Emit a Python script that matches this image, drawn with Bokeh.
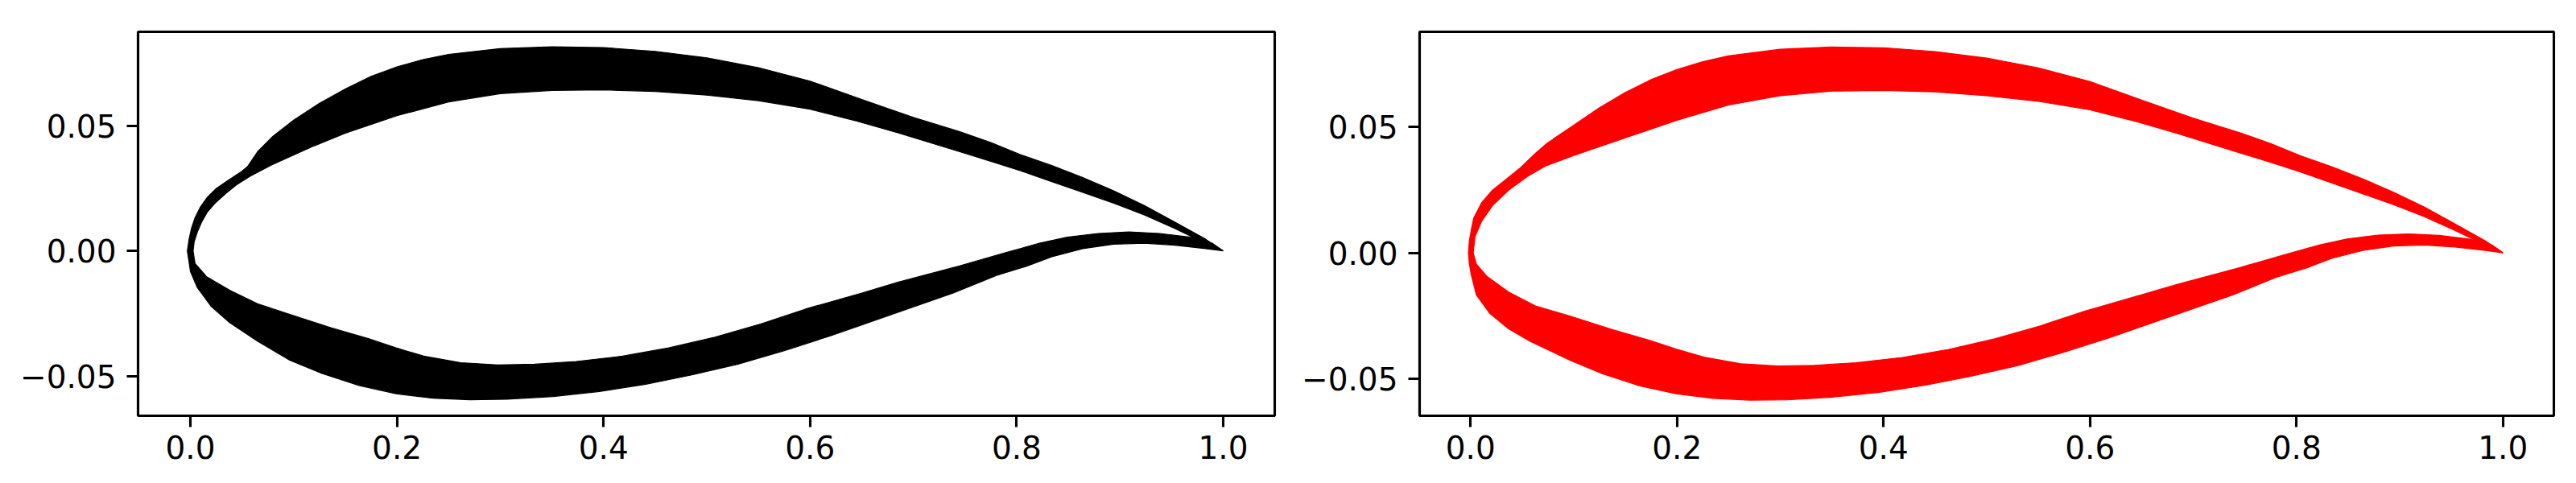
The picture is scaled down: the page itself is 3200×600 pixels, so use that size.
from bokeh.plotting import figure
from bokeh.layouts import row
from bokeh.models import FixedTicker, CustomJSTickFormatter, Range1d
from bokeh.embed import file_html
from bokeh.resources import INLINE

# ---------------- Left panel (black) ----------------
L_upper_outer_x = [-0.003, -0.0013, 0.001, 0.0044, 0.0096, 0.0161, 0.0252, 0.0369, 0.0499, 0.0555, 0.065,
                   0.08, 0.1, 0.125, 0.15, 0.175, 0.2, 0.225, 0.25, 0.3, 0.35, 0.4, 0.45, 0.5, 0.55, 0.6,
                   0.65, 0.7, 0.745, 0.775, 0.804, 0.834, 0.864, 0.894, 0.924, 0.953, 0.983, 1.0]
L_upper_outer_y = [0.0, 0.0047, 0.0090, 0.0132, 0.0175, 0.0213, 0.0250, 0.0283, 0.0318, 0.0338, 0.0396,
                   0.0458, 0.0522, 0.0590, 0.0647, 0.0697, 0.0735, 0.0764, 0.0785, 0.0808, 0.0815, 0.0812,
                   0.0797, 0.0771, 0.0732, 0.0678, 0.0605, 0.0533, 0.0476, 0.0433, 0.0384, 0.0341, 0.0293,
                   0.0240, 0.0181, 0.0116, 0.0047, 0.0]
L_upper_inner_x = [0.0026, 0.0036, 0.0070, 0.0109, 0.0161, 0.0239, 0.0343, 0.0447, 0.0577, 0.0785, 0.0992,
                   0.12, 0.15, 0.2, 0.25, 0.3, 0.35, 0.4, 0.45, 0.5, 0.55, 0.6, 0.646, 0.685, 0.715, 0.745,
                   0.775, 0.804, 0.834, 0.864, 0.894, 0.924, 0.953, 0.98, 1.0]
L_upper_inner_y = [0.0, 0.0036, 0.0079, 0.0116, 0.0154, 0.0191, 0.0230, 0.0264, 0.0298, 0.0343, 0.0382,
                   0.0420, 0.0470, 0.0540, 0.0595, 0.0628, 0.0641, 0.0643, 0.0637, 0.0622, 0.0600, 0.0566,
                   0.0518, 0.0472, 0.0434, 0.0396, 0.0358, 0.0320, 0.0277, 0.0234, 0.0191, 0.0143, 0.0090,
                   0.0036, 0.0]
L_lower_outer_x = [-0.003, -0.0015, 0.0, 0.0067, 0.0201, 0.038, 0.0649, 0.0962, 0.1275, 0.1633, 0.1991,
                   0.2349, 0.2707, 0.3065, 0.3512, 0.396, 0.4408, 0.4855, 0.5302, 0.575, 0.6197, 0.655,
                   0.7387, 0.7804, 0.8102, 0.8341, 0.8639, 0.8938, 0.9236, 0.9534, 0.9832, 1.0]
L_lower_outer_y = [0.0, -0.0040, -0.0082, -0.0146, -0.0221, -0.0286, -0.0360, -0.0436, -0.0489, -0.0537,
                   -0.0570, -0.0588, -0.0594, -0.0592, -0.0581, -0.0561, -0.0532, -0.0495, -0.0452, -0.0398,
                   -0.0339, -0.0288, -0.0168, -0.0098, -0.0060, -0.0023, 0.0009, 0.0027, 0.0031, 0.0023,
                   0.0009, 0.0]
L_lower_inner_x = [0.0026, 0.0045, 0.0157, 0.038, 0.0649, 0.0962, 0.1365, 0.1723, 0.1991, 0.226, 0.2617,
                   0.2976, 0.3334, 0.3736, 0.4184, 0.4631, 0.5079, 0.5526, 0.5955, 0.6501, 0.685, 0.7447,
                   0.7894, 0.8222, 0.849, 0.8789, 0.9087, 0.9385, 0.9683, 0.9892, 1.0]
L_lower_inner_y = [0.0, -0.0050, -0.0103, -0.0157, -0.0211, -0.0253, -0.0307, -0.0350, -0.0387, -0.0420,
                   -0.0446, -0.0455, -0.0452, -0.0441, -0.0420, -0.0387, -0.0344, -0.0291, -0.0232, -0.0168,
                   -0.0125, -0.0060, -0.0007, 0.0031, 0.0055, 0.0070, 0.0076, 0.0070, 0.0055, 0.0031, 0.0]

# ---------------- Right panel (red) ----------------
R_upper_outer_x = [-0.002, -0.0012, 0.0008, 0.0031, 0.0109, 0.0213, 0.0343, 0.0473, 0.0629, 0.0733, 0.08, 0.1,
                   0.125, 0.15, 0.175, 0.2, 0.225, 0.25, 0.3, 0.35, 0.4, 0.45, 0.5, 0.55, 0.6, 0.65, 0.7,
                   0.745, 0.775, 0.804, 0.834, 0.864, 0.894, 0.924, 0.953, 0.983, 1.0]
R_upper_outer_y = [0.0, 0.0045, 0.0092, 0.0138, 0.0199, 0.0248, 0.0290, 0.0333, 0.0394, 0.0431, 0.0450,
                   0.0505, 0.0575, 0.0635, 0.0686, 0.0726, 0.0757, 0.0780, 0.0806, 0.0815, 0.0812, 0.0797,
                   0.0771, 0.0732, 0.0678, 0.0605, 0.0533, 0.0476, 0.0433, 0.0384, 0.0341, 0.0293, 0.0240,
                   0.0181, 0.0116, 0.0047, 0.0]
R_upper_inner_x = [0.0026, 0.0044, 0.0109, 0.0213, 0.0369, 0.0551, 0.0733, 0.1, 0.15, 0.2, 0.25, 0.3, 0.35,
                   0.4, 0.45, 0.5, 0.55, 0.6, 0.646, 0.685, 0.715, 0.745, 0.775, 0.804, 0.834, 0.864, 0.894,
                   0.924, 0.953, 0.98, 1.0]
R_upper_inner_y = [0.0, 0.0065, 0.0126, 0.0187, 0.0248, 0.0302, 0.0345, 0.0385, 0.0455, 0.0525, 0.0585,
                   0.0622, 0.0640, 0.0643, 0.0637, 0.0622, 0.0600, 0.0566, 0.0518, 0.0472, 0.0434, 0.0396,
                   0.0358, 0.0320, 0.0277, 0.0234, 0.0191, 0.0143, 0.0090, 0.0036, 0.0]
R_lower_outer_x = [-0.002, -0.0012, 0.0006, 0.0057, 0.0187, 0.0369, 0.0577, 0.0733, 0.0962, 0.1275, 0.1633,
                   0.1991, 0.2349, 0.2707, 0.3065, 0.3512, 0.396, 0.4408, 0.4855, 0.5302, 0.575, 0.6197, 0.655,
                   0.7387, 0.7804, 0.8102, 0.8341, 0.8639, 0.8938, 0.9236, 0.9534, 0.9832, 1.0]
R_lower_outer_y = [0.0, -0.0042, -0.0085, -0.0167, -0.0240, -0.0301, -0.0350, -0.0380, -0.0425, -0.0478,
                   -0.0526, -0.0558, -0.0576, -0.0583, -0.0582, -0.0571, -0.0552, -0.0524, -0.0488, -0.0446,
                   -0.0393, -0.0335, -0.0285, -0.0166, -0.0097, -0.0059, -0.0022, 0.0009, 0.0027, 0.0031,
                   0.0023, 0.0009, 0.0]
R_lower_inner_x = [0.0026, 0.0057, 0.0161, 0.0369, 0.0629, 0.0962, 0.1365, 0.1723, 0.1991, 0.226, 0.2617,
                   0.2976, 0.3334, 0.3736, 0.4184, 0.4631, 0.5079, 0.5526, 0.5955, 0.6501, 0.685, 0.7447,
                   0.7894, 0.8222, 0.849, 0.8789, 0.9087, 0.9385, 0.9683, 0.9892, 1.0]
R_lower_inner_y = [0.0, -0.0045, -0.0094, -0.0155, -0.0210, -0.0250, -0.0303, -0.0345, -0.0381, -0.0413,
                   -0.0439, -0.0448, -0.0445, -0.0435, -0.0414, -0.0382, -0.0340, -0.0288, -0.0230, -0.0166,
                   -0.0124, -0.0059, -0.0006, 0.0031, 0.0055, 0.0070, 0.0075, 0.0069, 0.0054, 0.0031, 0.0]

x_ticks = [0.0, 0.2, 0.4, 0.6, 0.8, 1.0]
y_ticks = [-0.05, 0.0, 0.05]

LW = 3.1
FONT_SIZE = "39px"


def band(ox, oy, ix, iy):
    return list(ox) + list(reversed(ix)), list(oy) + list(reversed(iy))


def make_panel(curves, color, xr, yr, fw, fh, b_left, b_right, b_top, b_bottom):
    p = figure(frame_width=fw, frame_height=fh, output_backend="svg", toolbar_location=None,
               title=None, x_range=Range1d(*xr), y_range=Range1d(*yr),
               min_border_left=b_left, min_border_right=b_right,
               min_border_top=b_top, min_border_bottom=b_bottom)
    uo_x, uo_y, ui_x, ui_y, lo_x, lo_y, li_x, li_y = curves
    ux, uy = band(uo_x, uo_y, ui_x, ui_y)
    lx, ly = band(lo_x, lo_y, li_x, li_y)
    p.patches(xs=[ux, lx], ys=[uy, ly], fill_color=color, line_color=color, line_width=1.2)

    p.xgrid.visible = False
    p.ygrid.visible = False
    p.background_fill_color = "white"
    p.border_fill_color = "white"
    p.outline_line_color = "black"
    p.outline_line_width = LW
    p.outline_line_alpha = 1.0

    p.xaxis.ticker = FixedTicker(ticks=x_ticks, minor_ticks=[])
    p.yaxis.ticker = FixedTicker(ticks=y_ticks, minor_ticks=[])
    p.xaxis.formatter = CustomJSTickFormatter(code="return tick.toFixed(1).replace('-', '\\u2212');")
    p.yaxis.formatter = CustomJSTickFormatter(code="return tick.toFixed(2).replace('-', '\\u2212');")
    for ax in (p.xaxis, p.yaxis):
        ax.axis_line_color = "black"
        ax.axis_line_width = LW
        ax.major_tick_line_color = "black"
        ax.major_tick_line_width = LW
        ax.major_tick_out = 14
        ax.major_tick_in = 0
        ax.minor_tick_line_color = None
        ax.major_label_text_font = "DejaVu Sans"
        ax.major_label_text_font_size = FONT_SIZE
        ax.major_label_text_color = "black"
    p.xaxis.major_label_standoff = 10
    p.yaxis.major_label_standoff = 13
    return p


left = make_panel(
    (L_upper_outer_x, L_upper_outer_y, L_upper_inner_x, L_upper_inner_y,
     L_lower_outer_x, L_lower_outer_y, L_lower_inner_x, L_lower_inner_y),
    "black", (-0.0507, 1.0499), (-0.0658, 0.0875),
    fw=1412, fh=477, b_left=171, b_right=17, b_top=39, b_bottom=80)

right = make_panel(
    (R_upper_outer_x, R_upper_outer_y, R_upper_inner_x, R_upper_inner_y,
     R_lower_outer_x, R_lower_outer_y, R_lower_inner_x, R_lower_inner_y),
    "#ff0000", (-0.0493, 1.0493), (-0.0645, 0.0875),
    fw=1409, fh=477, b_left=163, b_right=4, b_top=29, b_bottom=90)

layout = row(left, right, spacing=0)

open("out.html", "w").write(file_html(layout, INLINE))
